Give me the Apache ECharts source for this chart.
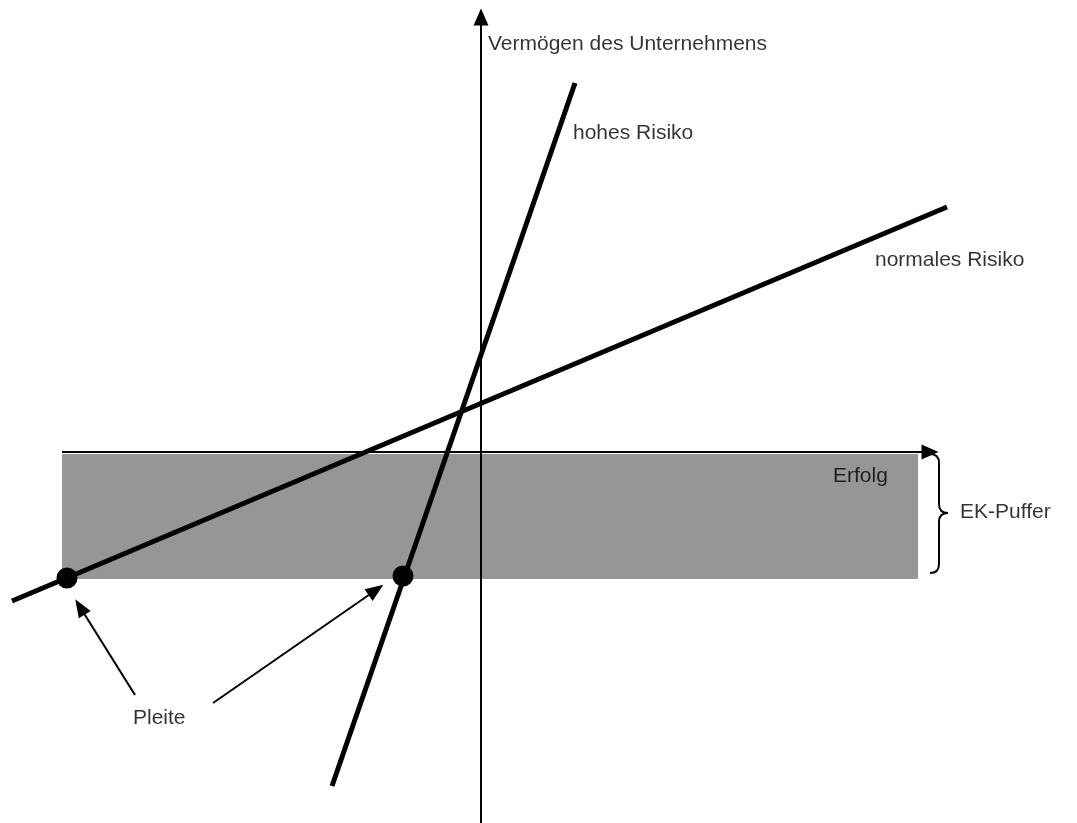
<!DOCTYPE html>
<html style="height: 100%">
<head>
    <meta charset="UTF-8">
    <title>EK-Puffer und Risiko</title>
    <script src="https://cdn.jsdelivr.net/npm/echarts@6/dist/echarts.min.js"></script>
</head>
<body style="height: 100%; margin: 0; background: #fff">
    <div id="main" style="width: 1077px; height: 823px;"></div>
    <script>
        // Koordinaten: Ursprung im Achsenkreuz, 1 Einheit = 100 px
        var normalLine = [[-4.69, -1.49], [4.66, 2.45]];
        var highLine = [[-1.49, -3.34], [0.94, 3.69]];
        var pleitePoints = [[-4.14, -1.26], [-0.78, -1.24]];
        // EK-Puffer: [xMin, yTop, xMax, yBottom]
        var bufferBox = [-4.19, -0.02, 4.37, -1.27];
        // Achsen: [Start, Ende]
        var xAxisLine = [[-4.19, 0], [4.49, 0]];
        var yAxisLine = [[0, -3.71], [0, 4.35]];
        // Pfeile "Pleite"
        var pleiteArrows = [
            [[-3.46, -2.43], [-4.01, -1.55]],
            [[-2.68, -2.51], [-1.05, -1.38]]
        ];
        // Klammer: [xStart, xStiel, xSpitze, yOben, ySpitze, yUnten]
        var brace = [4.49, 4.58, 4.67, -0.02, -0.61, -1.21];
        var labels = [
            [0.07, 4.08, 'Vermögen des Unternehmens'],
            [0.92, 3.19, 'hohes Risiko'],
            [3.94, 1.92, 'normales Risiko'],
            [3.52, -0.24, 'Erfolg'],
            [4.79, -0.60, 'EK-Puffer'],
            [-3.48, -2.66, 'Pleite']
        ];

        var myChart = echarts.init(document.getElementById('main'));

        function arrowLine(seg, size) {
            return [{ coord: seg[0] }, { coord: seg[1], symbolSize: size }];
        }

        var arrows = [arrowLine(xAxisLine, [15, 17]), arrowLine(yAxisLine, [15, 17])]
            .concat(pleiteArrows.map(function (seg) { return arrowLine(seg, [14, 18]); }));

        var option = {
            animation: false,
            backgroundColor: '#fff',
            grid: { left: 0, right: 0, top: 0, bottom: 0 },
            xAxis: { type: 'value', min: -4.81, max: 5.96, show: false },
            yAxis: { type: 'value', min: -3.71, max: 4.52, show: false },
            series: [
                {
                    // grauer Puffer
                    type: 'custom',
                    silent: true,
                    z: 1,
                    data: [bufferBox],
                    renderItem: function (params, api) {
                        var p1 = api.coord([api.value(0), api.value(1)]);
                        var p2 = api.coord([api.value(2), api.value(3)]);
                        return {
                            type: 'rect',
                            shape: { x: p1[0], y: p1[1], width: p2[0] - p1[0], height: p2[1] - p1[1] },
                            style: { fill: '#969696' }
                        };
                    }
                },
                {
                    // Achsen und Pfeile
                    type: 'line',
                    silent: true,
                    z: 2,
                    data: [],
                    markLine: {
                        silent: true,
                        symbol: ['none', 'triangle'],
                        symbolSize: [15, 17],
                        label: { show: false },
                        lineStyle: { color: '#000', width: 2, type: 'solid' },
                        itemStyle: { color: '#000' },
                        data: arrows
                    }
                },
                {
                    type: 'line',
                    name: 'normales Risiko',
                    silent: true,
                    z: 3,
                    data: normalLine,
                    showSymbol: false,
                    lineStyle: { color: '#000', width: 5 }
                },
                {
                    type: 'line',
                    name: 'hohes Risiko',
                    silent: true,
                    z: 3,
                    data: highLine,
                    showSymbol: false,
                    lineStyle: { color: '#000', width: 5 }
                },
                {
                    type: 'scatter',
                    silent: true,
                    z: 4,
                    data: pleitePoints,
                    symbolSize: 21,
                    itemStyle: { color: '#000', opacity: 1 }
                },
                {
                    // geschweifte Klammer
                    type: 'custom',
                    silent: true,
                    z: 2,
                    data: [brace],
                    renderItem: function (params, api) {
                        var top = api.coord([api.value(0), api.value(3)]);
                        var stemTop = api.coord([api.value(1), api.value(3)]);
                        var tip = api.coord([api.value(2), api.value(4)]);
                        var bottom = api.coord([api.value(0), api.value(5)]);
                        var r = 9;
                        var x0 = top[0], x1 = stemTop[0], x2 = tip[0];
                        var yT = top[1], yM = tip[1], yB = bottom[1];
                        var d = 'M' + x0 + ',' + yT +
                            ' Q' + x1 + ',' + yT + ' ' + x1 + ',' + (yT + r) +
                            ' L' + x1 + ',' + (yM - r) +
                            ' Q' + x1 + ',' + yM + ' ' + x2 + ',' + yM +
                            ' Q' + x1 + ',' + yM + ' ' + x1 + ',' + (yM + r) +
                            ' L' + x1 + ',' + (yB - r) +
                            ' Q' + x1 + ',' + yB + ' ' + x0 + ',' + yB;
                        return {
                            type: 'path',
                            shape: { pathData: d },
                            style: { stroke: '#000', lineWidth: 2, fill: null }
                        };
                    }
                },
                {
                    // Beschriftungen
                    type: 'scatter',
                    silent: true,
                    z: 5,
                    data: labels,
                    symbolSize: 0,
                    label: {
                        show: true,
                        position: 'right',
                        distance: 0,
                        color: '#000',
                        fontFamily: 'Liberation Sans, Arial, sans-serif',
                        fontSize: 21,
                        formatter: function (p) { return p.value[2]; }
                    }
                }
            ]
        };

        myChart.setOption(option);
    </script>
</body>
</html>
